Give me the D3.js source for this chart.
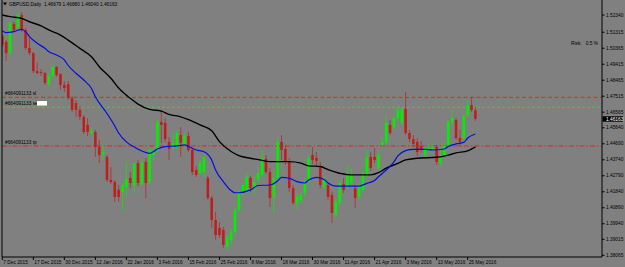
<!DOCTYPE html>
<html>
<head>
<meta charset="utf-8">
<script src="https://cdn.jsdelivr.net/npm/d3@7"></script>
<style>
    body { margin: 0; background: #808080; }
    svg { display: block; }
    text { font-family: "Liberation Sans", Arial, sans-serif; fill: #000; }
</style>
</head>
<body>
<svg id="chart"></svg>
<script>
// GBPUSD daily: date, open, high, low, close
const candles = [
    ['2015-12-07', 1.5110, 1.5121, 1.5044, 1.5056],
    ['2015-12-08', 1.5074, 1.5086, 1.4961, 1.5008],
    ['2015-12-09', 1.5008, 1.5198, 1.4996, 1.5187],
    ['2015-12-10', 1.5181, 1.5192, 1.5133, 1.5145],
    ['2015-12-11', 1.5157, 1.5246, 1.5145, 1.5234],
    ['2015-12-14', 1.5234, 1.5252, 1.5133, 1.5145],
    ['2015-12-15', 1.5145, 1.5157, 1.5026, 1.5038],
    ['2015-12-16', 1.5038, 1.5098, 1.4996, 1.5008],
    ['2015-12-17', 1.5008, 1.5014, 1.4889, 1.4901],
    ['2015-12-18', 1.4901, 1.4955, 1.4883, 1.4889],
    ['2015-12-21', 1.4895, 1.4913, 1.4872, 1.4889],
    ['2015-12-22', 1.4889, 1.4895, 1.4818, 1.4830],
    ['2015-12-23', 1.4824, 1.4889, 1.4812, 1.4872],
    ['2015-12-24', 1.4872, 1.4949, 1.4866, 1.4925],
    ['2015-12-28', 1.4925, 1.4931, 1.4866, 1.4878],
    ['2015-12-29', 1.4883, 1.4889, 1.4789, 1.4818],
    ['2015-12-30', 1.4818, 1.4842, 1.4777, 1.4800],
    ['2015-12-31', 1.4824, 1.4842, 1.4729, 1.4741],
    ['2016-01-04', 1.4741, 1.4753, 1.4658, 1.4670],
    ['2016-01-05', 1.4711, 1.4729, 1.4628, 1.4670],
    ['2016-01-06', 1.4670, 1.4693, 1.4610, 1.4628],
    ['2016-01-07', 1.4628, 1.4640, 1.4527, 1.4539],
    ['2016-01-08', 1.4581, 1.4622, 1.4515, 1.4539],
    ['2016-01-11', 1.4533, 1.4563, 1.4521, 1.4545],
    ['2016-01-12', 1.4539, 1.4551, 1.4391, 1.4450],
    ['2016-01-13', 1.4450, 1.4492, 1.4355, 1.4402],
    ['2016-01-14', 1.4408, 1.4462, 1.4373, 1.4420],
    ['2016-01-15', 1.4391, 1.4402, 1.4242, 1.4254],
    ['2016-01-18', 1.4254, 1.4331, 1.4230, 1.4242],
    ['2016-01-19', 1.4242, 1.4254, 1.4124, 1.4153],
    ['2016-01-20', 1.4195, 1.4224, 1.4124, 1.4153],
    ['2016-01-21', 1.4183, 1.4236, 1.4076, 1.4224],
    ['2016-01-22', 1.4212, 1.4361, 1.4153, 1.4260],
    ['2016-01-25', 1.4266, 1.4301, 1.4206, 1.4236],
    ['2016-01-26', 1.4224, 1.4355, 1.4177, 1.4355],
    ['2016-01-27', 1.4355, 1.4373, 1.4218, 1.4236],
    ['2016-01-28', 1.4230, 1.4373, 1.4218, 1.4355],
    ['2016-01-29', 1.4361, 1.4385, 1.4147, 1.4236],
    ['2016-02-01', 1.4242, 1.4444, 1.4230, 1.4432],
    ['2016-02-02', 1.4402, 1.4444, 1.4373, 1.4420],
    ['2016-02-03', 1.4432, 1.4610, 1.4420, 1.4599],
    ['2016-02-04', 1.4599, 1.4670, 1.4474, 1.4581],
    ['2016-02-05', 1.4593, 1.4622, 1.4480, 1.4497],
    ['2016-02-08', 1.4480, 1.4509, 1.4373, 1.4438],
    ['2016-02-09', 1.4444, 1.4533, 1.4432, 1.4474],
    ['2016-02-10', 1.4450, 1.4551, 1.4438, 1.4533],
    ['2016-02-11', 1.4521, 1.4569, 1.4391, 1.4474],
    ['2016-02-12', 1.4456, 1.4533, 1.4444, 1.4515],
    ['2016-02-15', 1.4515, 1.4539, 1.4420, 1.4432],
    ['2016-02-16', 1.4432, 1.4444, 1.4284, 1.4301],
    ['2016-02-17', 1.4313, 1.4337, 1.4272, 1.4284],
    ['2016-02-18', 1.4295, 1.4373, 1.4284, 1.4355],
    ['2016-02-19', 1.4301, 1.4402, 1.4272, 1.4391],
    ['2016-02-22', 1.4266, 1.4278, 1.4135, 1.4147],
    ['2016-02-23', 1.4147, 1.4159, 1.3969, 1.4016],
    ['2016-02-24', 1.4016, 1.4064, 1.3898, 1.3927],
    ['2016-02-25', 1.3969, 1.4004, 1.3910, 1.3927],
    ['2016-02-26', 1.3957, 1.3975, 1.3850, 1.3868],
    ['2016-02-29', 1.3856, 1.3927, 1.3838, 1.3915],
    ['2016-03-01', 1.3898, 1.3969, 1.3874, 1.3945],
    ['2016-03-02', 1.3945, 1.4088, 1.3922, 1.4076],
    ['2016-03-03', 1.4076, 1.4195, 1.4064, 1.4177],
    ['2016-03-04', 1.4177, 1.4236, 1.4159, 1.4224],
    ['2016-03-07', 1.4183, 1.4295, 1.4177, 1.4272],
    ['2016-03-08', 1.4266, 1.4278, 1.4183, 1.4206],
    ['2016-03-09', 1.4206, 1.4284, 1.4165, 1.4242],
    ['2016-03-10', 1.4254, 1.4331, 1.4236, 1.4295],
    ['2016-03-11', 1.4284, 1.4432, 1.4272, 1.4385],
    ['2016-03-14', 1.4379, 1.4402, 1.4289, 1.4301],
    ['2016-03-15', 1.4301, 1.4325, 1.4094, 1.4147],
    ['2016-03-16', 1.4153, 1.4313, 1.4058, 1.4266],
    ['2016-03-17', 1.4266, 1.4503, 1.4254, 1.4480],
    ['2016-03-18', 1.4480, 1.4521, 1.4373, 1.4432],
    ['2016-03-21', 1.4438, 1.4462, 1.4343, 1.4361],
    ['2016-03-22', 1.4361, 1.4385, 1.4183, 1.4206],
    ['2016-03-23', 1.4206, 1.4224, 1.4106, 1.4118],
    ['2016-03-24', 1.4118, 1.4177, 1.4076, 1.4153],
    ['2016-03-25', 1.4129, 1.4183, 1.4118, 1.4165],
    ['2016-03-28', 1.4177, 1.4266, 1.4159, 1.4242],
    ['2016-03-29', 1.4242, 1.4402, 1.4230, 1.4385],
    ['2016-03-30', 1.4402, 1.4450, 1.4349, 1.4373],
    ['2016-03-31', 1.4385, 1.4420, 1.4337, 1.4367],
    ['2016-04-01', 1.4331, 1.4361, 1.4206, 1.4224],
    ['2016-04-04', 1.4212, 1.4278, 1.4195, 1.4254],
    ['2016-04-05', 1.4224, 1.4242, 1.4135, 1.4153],
    ['2016-04-06', 1.4165, 1.4183, 1.3999, 1.4058],
    ['2016-04-07', 1.4046, 1.4147, 1.4028, 1.4124],
    ['2016-04-08', 1.4118, 1.4254, 1.4100, 1.4236],
    ['2016-04-11', 1.4230, 1.4266, 1.4177, 1.4195],
    ['2016-04-12', 1.4212, 1.4343, 1.4195, 1.4284],
    ['2016-04-13', 1.4236, 1.4325, 1.4218, 1.4284],
    ['2016-04-14', 1.4206, 1.4224, 1.4088, 1.4147],
    ['2016-04-15', 1.4153, 1.4236, 1.4135, 1.4224],
    ['2016-04-18', 1.4195, 1.4313, 1.4183, 1.4295],
    ['2016-04-19', 1.4284, 1.4432, 1.4272, 1.4391],
    ['2016-04-20', 1.4391, 1.4420, 1.4307, 1.4325],
    ['2016-04-21', 1.4391, 1.4444, 1.4355, 1.4373],
    ['2016-04-22', 1.4325, 1.4432, 1.4313, 1.4402],
    ['2016-04-25', 1.4462, 1.4503, 1.4450, 1.4480],
    ['2016-04-26', 1.4480, 1.4640, 1.4468, 1.4593],
    ['2016-04-27', 1.4581, 1.4610, 1.4521, 1.4533],
    ['2016-04-28', 1.4569, 1.4640, 1.4551, 1.4622],
    ['2016-04-29', 1.4622, 1.4682, 1.4604, 1.4670],
    ['2016-05-02', 1.4593, 1.4688, 1.4581, 1.4676],
    ['2016-05-03', 1.4676, 1.4777, 1.4521, 1.4533],
    ['2016-05-04', 1.4533, 1.4551, 1.4480, 1.4497],
    ['2016-05-05', 1.4497, 1.4521, 1.4450, 1.4468],
    ['2016-05-06', 1.4480, 1.4503, 1.4397, 1.4420],
    ['2016-05-09', 1.4456, 1.4486, 1.4414, 1.4432],
    ['2016-05-10', 1.4402, 1.4462, 1.4391, 1.4444],
    ['2016-05-11', 1.4432, 1.4474, 1.4420, 1.4444],
    ['2016-05-12', 1.4438, 1.4474, 1.4426, 1.4450],
    ['2016-05-13', 1.4450, 1.4462, 1.4343, 1.4361],
    ['2016-05-16', 1.4355, 1.4444, 1.4337, 1.4402],
    ['2016-05-17', 1.4402, 1.4480, 1.4391, 1.4456],
    ['2016-05-18', 1.4462, 1.4610, 1.4450, 1.4599],
    ['2016-05-19', 1.4599, 1.4670, 1.4581, 1.4622],
    ['2016-05-20', 1.4610, 1.4622, 1.4492, 1.4503],
    ['2016-05-23', 1.4503, 1.4551, 1.4450, 1.4480],
    ['2016-05-24', 1.4503, 1.4646, 1.4492, 1.4634],
    ['2016-05-25', 1.4640, 1.4729, 1.4628, 1.4699],
    ['2016-05-26', 1.4699, 1.4747, 1.4658, 1.4670],
    ['2016-05-27', 1.46679, 1.46880, 1.46040, 1.46163],
];

// moving averages (blue = fast, black = slow)
const maFast = [
    ['2015-12-07', 1.5141], ['2015-12-08', 1.5129], ['2015-12-10', 1.5135], ['2015-12-14', 1.5149],
    ['2015-12-15', 1.5135], ['2015-12-16', 1.5105], ['2015-12-18', 1.5066], ['2015-12-22', 1.5036],
    ['2015-12-23', 1.5016], ['2015-12-28', 1.4996], ['2015-12-30', 1.4967], ['2015-12-31', 1.4934],
    ['2016-01-05', 1.4888], ['2016-01-07', 1.4848], ['2016-01-11', 1.4797], ['2016-01-12', 1.4748],
    ['2016-01-15', 1.4649], ['2016-01-19', 1.4575], ['2016-01-20', 1.4533], ['2016-01-22', 1.4480],
    ['2016-01-26', 1.4450], ['2016-01-28', 1.4426], ['2016-02-01', 1.4412], ['2016-02-03', 1.4438],
    ['2016-02-05', 1.4452], ['2016-02-10', 1.4456], ['2016-02-12', 1.4462], ['2016-02-15', 1.4453],
    ['2016-02-17', 1.4432], ['2016-02-19', 1.4422], ['2016-02-23', 1.4373], ['2016-02-24', 1.4313],
    ['2016-02-26', 1.4244], ['2016-03-01', 1.4191], ['2016-03-02', 1.4178], ['2016-03-03', 1.4178],
    ['2016-03-08', 1.4195], ['2016-03-10', 1.4221], ['2016-03-15', 1.4224], ['2016-03-17', 1.4248],
    ['2016-03-18', 1.4269], ['2016-03-22', 1.4264], ['2016-03-24', 1.4244], ['2016-03-28', 1.4236],
    ['2016-03-29', 1.4254], ['2016-03-31', 1.4270], ['2016-04-04', 1.4257], ['2016-04-05', 1.4236],
    ['2016-04-07', 1.4218], ['2016-04-13', 1.4218], ['2016-04-15', 1.4218], ['2016-04-19', 1.4234],
    ['2016-04-21', 1.4251], ['2016-04-22', 1.4273], ['2016-04-26', 1.4313], ['2016-04-28', 1.4362],
    ['2016-04-29', 1.4397], ['2016-05-03', 1.4428], ['2016-05-05', 1.4436], ['2016-05-10', 1.4436],
    ['2016-05-12', 1.4432], ['2016-05-17', 1.4438], ['2016-05-18', 1.4453], ['2016-05-20', 1.4468],
    ['2016-05-24', 1.4477], ['2016-05-25', 1.4503], ['2016-05-27', 1.4527],
];

const maSlow = [
    ['2015-12-07', 1.5234], ['2015-12-09', 1.5224], ['2015-12-14', 1.5214], ['2015-12-16', 1.5194],
    ['2015-12-21', 1.5169], ['2015-12-23', 1.5145], ['2015-12-29', 1.5115], ['2015-12-31', 1.5085],
    ['2016-01-06', 1.5036], ['2016-01-11', 1.4986], ['2016-01-13', 1.4927], ['2016-01-18', 1.4858],
    ['2016-01-20', 1.4800], ['2016-01-25', 1.4739], ['2016-01-27', 1.4705], ['2016-02-01', 1.4673],
    ['2016-02-04', 1.4663], ['2016-02-08', 1.4644], ['2016-02-11', 1.4629], ['2016-02-15', 1.4612],
    ['2016-02-18', 1.4581], ['2016-02-23', 1.4547], ['2016-02-25', 1.4482], ['2016-03-01', 1.4423],
    ['2016-03-03', 1.4399], ['2016-03-08', 1.4383], ['2016-03-10', 1.4375], ['2016-03-15', 1.4363],
    ['2016-03-22', 1.4363], ['2016-03-25', 1.4354], ['2016-03-29', 1.4338], ['2016-04-01', 1.4334],
    ['2016-04-05', 1.4316], ['2016-04-08', 1.4294], ['2016-04-13', 1.4284], ['2016-04-20', 1.4284],
    ['2016-04-22', 1.4297], ['2016-04-26', 1.4324], ['2016-04-29', 1.4353], ['2016-05-03', 1.4373],
    ['2016-05-06', 1.4383], ['2016-05-13', 1.4389], ['2016-05-18', 1.4402], ['2016-05-20', 1.4415],
    ['2016-05-25', 1.4427], ['2016-05-27', 1.4451],
];

const priceTicks = [1.52340, 1.51315, 1.50365, 1.49415, 1.48465, 1.47515, 1.46565, 1.45640,
    1.44690, 1.43740, 1.42790, 1.41840, 1.40890, 1.39940, 1.39015, 1.38065];

const dateTicks = ['2015-12-07', '2015-12-17', '2015-12-30', '2016-01-12', '2016-01-22',
    '2016-02-03', '2016-02-15', '2016-02-25', '2016-03-08', '2016-03-18', '2016-03-30',
    '2016-04-11', '2016-04-21', '2016-05-03', '2016-05-13', '2016-05-25'];

const orderLines = [
    { label: '#664091133 sl', price: 1.4745, kind: 'sl' },
    { label: '#664091133 sell', price: 1.4686, kind: 'sell' },
    { label: '#664091133 tp', price: 1.4456, kind: 'tp' },
];

const title = 'GBPUSD,Daily  1.46679 1.46880 1.46040 1.46163';
const riskText = 'Risk:   0.5 %';

const W = 625, H = 267;
const plot = { left: 2, right: 602, top: 0, bottom: 257 };
const bull = '#00f000', bear = '#c01e1e';

const svg = d3.select('#chart').attr('width', W).attr('height', H);
svg.append('rect').attr('width', W).attr('height', H).attr('fill', '#808080');

const parse = d3.timeParse('%Y-%m-%d');
const fmt = d3.timeFormat('%-d %b %Y');

const x = d3.scalePoint()
    .domain(candles.map(d => d[0]))
    .range([2.3, 2.3 + 3.878 * (candles.length - 1)]);
const y = d3.scaleLinear().domain([1.38065, 1.52340]).range([255.3, 15]);

svg.append('clipPath').attr('id', 'clip')
    .append('rect')
    .attr('x', plot.left).attr('y', plot.top)
    .attr('width', plot.right - plot.left).attr('height', plot.bottom - plot.top);

const g = svg.append('g').attr('clip-path', 'url(#clip)');

// order lines
const lineStyle = {
    sl: { stroke: '#e02020', dash: '4,2.5', w: 0.9 },
    sell: { stroke: '#40d040', dash: '3,2', w: 0.9 },
    tp: { stroke: '#e02020', dash: '5,2,1.5,2', w: 0.9 },
};
g.selectAll('line.order')
    .data(orderLines)
    .join('line')
    .attr('class', 'order')
    .attr('x1', plot.left).attr('x2', plot.right)
    .attr('y1', d => y(d.price)).attr('y2', d => y(d.price))
    .attr('stroke', d => lineStyle[d.kind].stroke)
    .attr('stroke-width', d => lineStyle[d.kind].w)
    .attr('stroke-dasharray', d => lineStyle[d.kind].dash);

// candles
const c = g.selectAll('g.candle')
    .data(candles)
    .join('g')
    .attr('class', 'candle')
    .attr('transform', d => `translate(${x(d[0])},0)`);
c.append('line')
    .attr('y1', d => y(d[2])).attr('y2', d => y(d[3]))
    .attr('stroke', d => d[4] >= d[1] ? bull : bear)
    .attr('stroke-opacity', 0.7)
    .attr('stroke-width', 1);
c.append('rect')
    .attr('x', -1.3).attr('width', 2.6)
    .attr('y', d => y(Math.max(d[1], d[4])))
    .attr('height', d => Math.max(1, Math.abs(y(d[1]) - y(d[4]))))
    .attr('fill', d => d[4] >= d[1] ? bull : bear);

// moving averages
const maLine = d3.line()
    .x(d => x(d[0]))
    .y(d => y(d[1]))
    .curve(d3.curveMonotoneX);
g.append('path').datum(maSlow)
    .attr('fill', 'none').attr('stroke', '#000').attr('stroke-width', 1.4)
    .attr('d', maLine);
g.append('path').datum(maFast)
    .attr('fill', 'none').attr('stroke', '#0010e0').attr('stroke-width', 1.2)
    .attr('d', maLine);

// order labels
const labels = g.selectAll('g.olabel')
    .data(orderLines)
    .join('g')
    .attr('class', 'olabel')
    .attr('transform', d => `translate(5,${y(d.price) - 2})`);
labels.append('text')
    .attr('font-size', 4.8)
    .text(d => d.label);
labels.filter(d => d.kind === 'sell')
    .append('rect')
    .attr('x', 32).attr('y', -4.2).attr('width', 10).attr('height', 4.5)
    .attr('fill', '#fff');

// frame
svg.append('path')
    .attr('d', `M${plot.left},${plot.top}V${plot.bottom}H${plot.right}V${plot.top}`)
    .attr('fill', 'none').attr('stroke', '#000').attr('stroke-width', 1);

// price axis
const pt = svg.append('g').selectAll('g').data(priceTicks).join('g')
    .attr('transform', d => `translate(${plot.right},${y(d)})`);
pt.append('line').attr('x2', 2.5).attr('stroke', '#000');
pt.append('text').attr('x', 4).attr('dy', 1.7).attr('font-size', 4.8)
    .text(d => d.toFixed(5));

// current price marker
const last = candles[candles.length - 1][4];
svg.append('rect')
    .attr('x', plot.right + 0.5).attr('y', y(last) - 2.7)
    .attr('width', 20.5).attr('height', 5.4).attr('fill', '#000');
svg.append('text')
    .attr('x', plot.right + 4).attr('y', y(last) + 1.7)
    .attr('font-size', 4.8).style('fill', '#fff')
    .text(last.toFixed(5));

// date axis
const dt = svg.append('g').selectAll('g').data(dateTicks).join('g')
    .attr('transform', d => `translate(${x(d)},${plot.bottom})`);
dt.append('line').attr('y2', 3).attr('stroke', '#000');
dt.append('text').attr('x', 1).attr('y', 6.5).attr('font-size', 4.8)
    .text(d => fmt(parse(d)));

// title + risk
svg.append('path')
    .attr('d', 'M3,2.5H7L5,5.5Z').attr('fill', '#000');
svg.append('text').attr('x', 9).attr('y', 6).attr('font-size', 4.8)
    .style('white-space', 'pre').attr('xml:space', 'preserve')
    .text(title);
svg.append('text').attr('x', 571).attr('y', 44.5).attr('font-size', 4.8)
    .attr('xml:space', 'preserve').style('white-space', 'pre')
    .text(riskText);
</script>
</body>
</html>
